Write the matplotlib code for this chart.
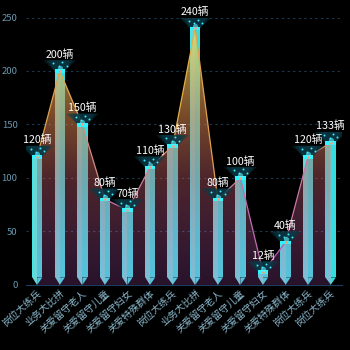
import matplotlib
matplotlib.use("Agg")
import matplotlib.pyplot as plt
import numpy as np
from matplotlib.collections import LineCollection
from matplotlib.colors import LinearSegmentedColormap

plt.rcParams['font.family'] = ['Noto Sans CJK SC', 'DejaVu Sans']

categories = ["岗位大练兵", "业务大比拼", "关爱留守老人", "关爱留守儿童", "关爱留守妇女",
              "关爱特殊群体", "岗位大练兵", "业务大比拼", "关爱留守老人", "关爱留守儿童",
              "关爱留守妇女", "关爱特殊群体", "岗位大练兵", "岗位大练兵"]
values = [120, 200, 150, 80, 70, 110, 130, 240, 80, 100, 12, 40, 120, 133]
unit = "辆"
y_max = 250
y_ticks = [0, 50, 100, 150, 200, 250]

fig = plt.figure(figsize=(3.5, 3.5), dpi=100, facecolor="black")
ax = fig.add_axes([0.074, 0.186, 0.903, 0.764])
ax.set_facecolor("black")

x = np.arange(len(values))
v = np.array(values, dtype=float)
bw = 0.46
notch = 7  # pointed bottom height, data units

left_c, right_c = "#6ad6d6", "#34dede"
ax.bar(x - bw / 2, v - notch, width=bw / 2, bottom=notch, align="edge",
       color=left_c, zorder=2, linewidth=0)
ax.bar(x, v - notch, width=bw / 2, bottom=notch, align="edge",
       color=right_c, zorder=2, linewidth=0)
ax.bar(x - bw / 2, v - notch, width=bw / 10, bottom=notch, align="edge",
       color="#44e6e6", zorder=2, linewidth=0)
for xi in x:
    ax.fill([xi - bw / 2, xi, xi], [notch, notch, 0], color=left_c, zorder=2, lw=0)
    ax.fill([xi, xi + bw / 2, xi], [notch, notch, 0], color=right_c, zorder=2, lw=0)

# gradient area under the line, over the bars
cmap = LinearSegmentedColormap.from_list(
    "area", [(0.0, (0.80, 0.38, 0.85, 0.20)),
             (0.4, (0.75, 0.36, 0.42, 0.40)),
             (0.65, (0.85, 0.52, 0.30, 0.55)),
             (1.0, (0.95, 0.88, 0.35, 0.75))])
grad = np.linspace(0, 1, 256).reshape(-1, 1)
img = ax.imshow(grad, cmap=cmap, extent=[-0.5, len(values) - 0.5, 0, max(values)],
                origin="lower", aspect="auto", zorder=3, interpolation="bilinear")
area = ax.fill_between(x, v, 0, facecolor="none", edgecolor="none", zorder=3)
img.set_clip_path(area.get_paths()[0], transform=ax.transData)

# line through the bar tops
pts = np.column_stack([x, v])
segs = np.stack([pts[:-1], pts[1:]], axis=1)
line_cmap = LinearSegmentedColormap.from_list("ln", ["#b04cc8", "#c878a8", "#e0a050", "#e8d040"])
lc = LineCollection(segs, cmap=line_cmap, linewidth=0.9, zorder=4)
lc.set_array((v[:-1] + v[1:]) / 2)
lc.set_clim(0, max(values))
ax.add_collection(lc)
ax.scatter(x, v, s=4, color="#f0a080", zorder=6, lw=0)

# glowing caps and labels
for xi, vi in zip(x, v):
    for w, a in [(0.72, 0.45), (0.58, 0.55), (0.42, 0.6)]:
        ax.fill([xi - bw / 2, xi + bw / 2, xi + w, xi - w],
                [vi, vi, vi + 10, vi + 10], color="#0a3a46", alpha=a, zorder=5, lw=0)
    ax.fill([xi - bw / 2, xi + bw / 2, xi + bw / 2, xi - bw / 2],
            [vi - 2, vi - 2, vi + 1.5, vi + 1.5], color="#30f4ff", zorder=5, lw=0)
    ax.scatter([xi], [vi + 2.5], s=14, color="#5ff6ff", zorder=5, lw=0, alpha=0.6)
    ax.scatter([xi - 0.28, xi + 0.12, xi + 0.3, xi - 0.05],
               [vi + 7, vi + 8, vi + 5, vi + 4.5],
               s=2, color="#40e8ff", zorder=6, lw=0)
    ax.text(xi, vi + 10.5, f"{int(vi)}{unit}", color="white", fontsize=7.7,
            ha="center", va="bottom", zorder=7)

ax.set_xlim(-0.5, len(values) - 0.5)
ax.set_ylim(0, y_max)
ax.set_yticks(y_ticks)
ax.set_xticks(x)
ax.set_xticklabels(categories, rotation=42, ha="right", va="top",
                   rotation_mode="anchor", color="#8ab8cc", fontsize=7)
ax.tick_params(axis="y", colors="#6a98b0", labelsize=6.8, length=0, pad=6)
ax.tick_params(axis="x", length=0, pad=2)

for yt in y_ticks[1:]:
    ax.axhline(yt, color="#1c3b52", linestyle=(0, (2, 3)), linewidth=0.8, zorder=1)
for s in ["top", "right", "left"]:
    ax.spines[s].set_visible(False)
ax.spines["bottom"].set_color("#1e3a5c")
ax.spines["bottom"].set_zorder(8)

fig.savefig("out.png", dpi=100, facecolor="black")
